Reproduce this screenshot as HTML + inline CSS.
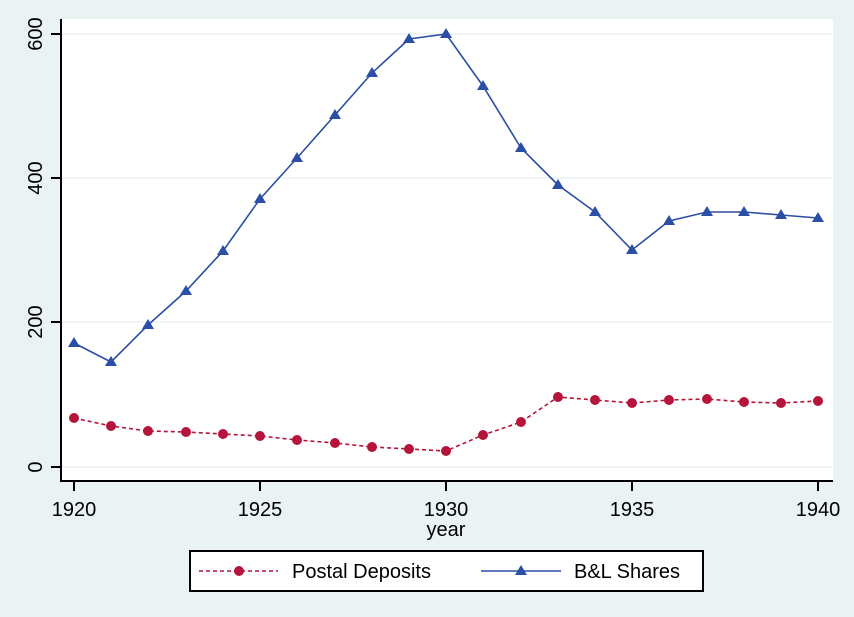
<!DOCTYPE html>
<html><head><style>body{margin:0;background:#eaf2f3;}svg{display:block}</style></head><body>
<svg width="854" height="617" xmlns="http://www.w3.org/2000/svg" font-family="Liberation Sans, sans-serif">
<rect width="854" height="617" fill="#eaf2f3"/>
<rect x="61" y="19" width="772" height="462" fill="#fff"/>
<g stroke="#eaf2f3" stroke-width="1.5">
<line x1="61" x2="833" y1="34" y2="34"/><line x1="61" x2="833" y1="178" y2="178"/><line x1="61" x2="833" y1="322" y2="322"/><line x1="61" x2="833" y1="467" y2="467"/>
</g>
<g stroke="#000" stroke-width="2" fill="none">
<polyline points="61,19 61,481 833,481"/>
<line x1="51" x2="61" y1="34" y2="34"/><line x1="51" x2="61" y1="178" y2="178"/><line x1="51" x2="61" y1="322" y2="322"/><line x1="51" x2="61" y1="467" y2="467"/>
<line x1="74" x2="74" y1="481" y2="491"/><line x1="260" x2="260" y1="481" y2="491"/><line x1="446" x2="446" y1="481" y2="491"/><line x1="632" x2="632" y1="481" y2="491"/><line x1="818" x2="818" y1="481" y2="491"/>
</g>
<g font-size="20" text-anchor="middle" fill="#000">
<text transform="translate(42,34) rotate(-90)">600</text>
<text transform="translate(42,178) rotate(-90)">400</text>
<text transform="translate(42,322) rotate(-90)">200</text>
<text transform="translate(42,467) rotate(-90)">0</text>
<text x="74" y="516">1920</text><text x="260" y="516">1925</text><text x="446" y="516">1930</text><text x="632" y="516">1935</text><text x="818" y="516">1940</text>
<text x="446" y="536">year</text>
</g>
<polyline fill="none" stroke="#2b4ea6" stroke-width="1.6" points="74,343 111,362 148,325 186,291 223,251 260,199 297,158 335,115 372,73 409,39 446,34 483,86 521,148 558,185 595,212 632,250 669,221 707,212 744,212 781,215 818,218"/>
<g fill="#2b4ea6">
<path d="M74,337l6,10h-12z M111,356l6,10h-12z M148,319l6,10h-12z M186,285l6,10h-12z M223,245l6,10h-12z M260,193l6,10h-12z M297,152l6,10h-12z M335,109l6,10h-12z M372,67l6,10h-12z M409,33l6,10h-12z M446,28l6,10h-12z M483,80l6,10h-12z M521,142l6,10h-12z M558,179l6,10h-12z M595,206l6,10h-12z M632,244l6,10h-12z M669,215l6,10h-12z M707,206l6,10h-12z M744,206l6,10h-12z M781,209l6,10h-12z M818,212l6,10h-12z"/>
</g>
<polyline fill="none" stroke="#b5153a" stroke-width="1.6" stroke-dasharray="4,3" points="74,418 111,426 148,431 186,432 223,434 260,436 297,440 335,443 372,447 409,449 446,451 483,435 521,422 558,397 595,400 632,403 669,400 707,399 744,402 781,403 818,401"/>
<g fill="#b5153a">
<circle cx="74" cy="418" r="5"/><circle cx="111" cy="426" r="5"/><circle cx="148" cy="431" r="5"/><circle cx="186" cy="432" r="5"/><circle cx="223" cy="434" r="5"/><circle cx="260" cy="436" r="5"/><circle cx="297" cy="440" r="5"/><circle cx="335" cy="443" r="5"/><circle cx="372" cy="447" r="5"/><circle cx="409" cy="449" r="5"/><circle cx="446" cy="451" r="5"/><circle cx="483" cy="435" r="5"/><circle cx="521" cy="422" r="5"/><circle cx="558" cy="397" r="5"/><circle cx="595" cy="400" r="5"/><circle cx="632" cy="403" r="5"/><circle cx="669" cy="400" r="5"/><circle cx="707" cy="399" r="5"/><circle cx="744" cy="402" r="5"/><circle cx="781" cy="403" r="5"/><circle cx="818" cy="401" r="5"/>
</g>
<rect x="190" y="551" width="513" height="40" fill="#fff" stroke="#000" stroke-width="2"/>
<line x1="199" x2="278" y1="571" y2="571" stroke="#b5153a" stroke-width="1.6" stroke-dasharray="4,3"/>
<circle cx="239" cy="571" r="5" fill="#b5153a"/>
<text x="292" y="578" font-size="20">Postal Deposits</text>
<line x1="481" x2="561" y1="571" y2="571" stroke="#2b4ea6" stroke-width="1.6"/>
<path d="M521,565l6,10h-12z" fill="#2b4ea6"/>
<text x="574" y="578" font-size="20">B&amp;L Shares</text>
</svg>
</body></html>
